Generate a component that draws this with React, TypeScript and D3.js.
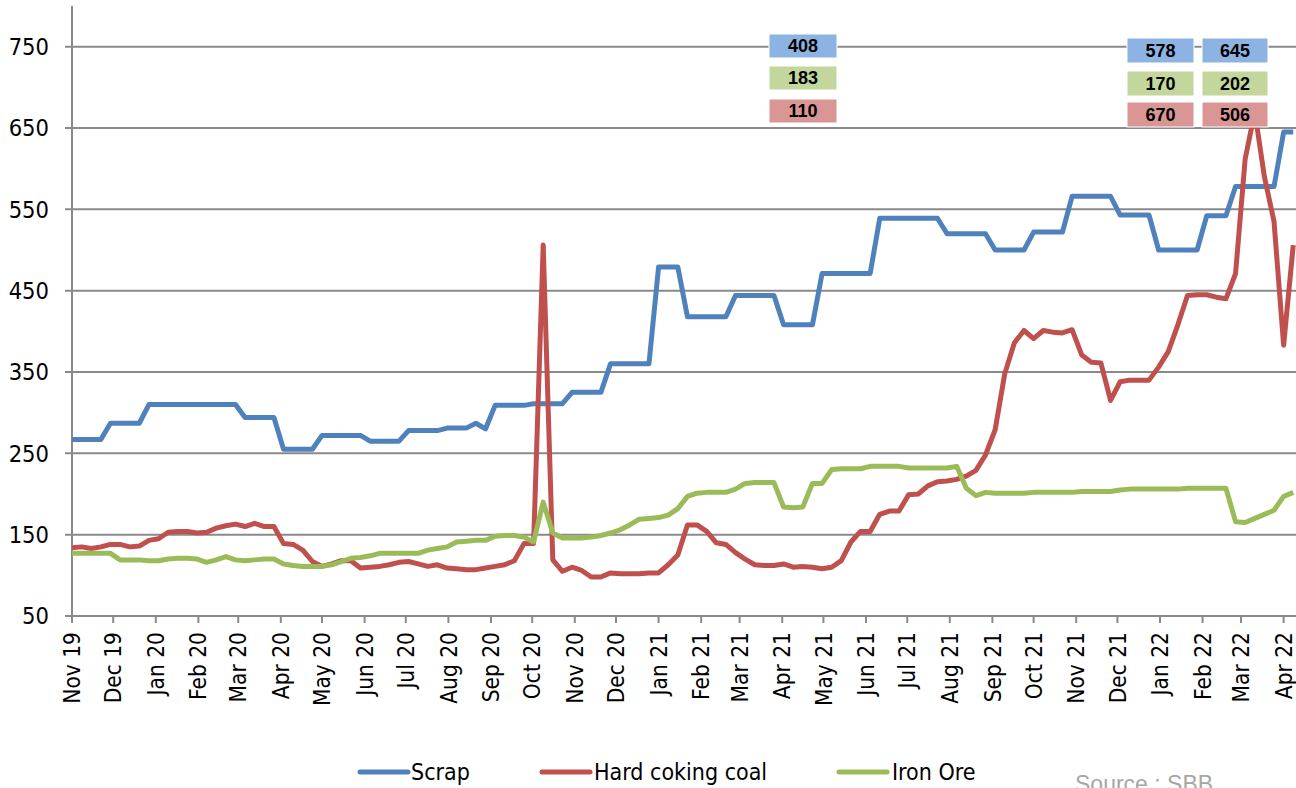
import React, { useEffect, useRef } from 'react';
import * as d3 from 'd3';

// month tick labels on the date axis
const MONTH_LABELS = [
    'Nov 19', 'Dec 19', 'Jan 20', 'Feb 20', 'Mar 20', 'Apr 20', 'May 20', 'Jun 20', 'Jul 20', 'Aug 20',
    'Sep 20', 'Oct 20', 'Nov 20', 'Dec 20', 'Jan 21', 'Feb 21', 'Mar 21', 'Apr 21', 'May 21', 'Jun 21',
    'Jul 21', 'Aug 21', 'Sep 21', 'Oct 21', 'Nov 21', 'Dec 21', 'Jan 22', 'Feb 22', 'Mar 22', 'Apr 22',
];
const Y_TICKS = [50, 150, 250, 350, 450, 550, 650, 750];
const FIRST_WEEK = '2019-11-01';
const AXIS_END = '2022-04-10';

// weekly prices, one value per week from FIRST_WEEK
const SCRAP = [
    267, 267, 267, 267, 287, 287, 287, 287, 310, 310,
    310, 310, 310, 310, 310, 310, 310, 310, 294, 294,
    294, 294, 255, 255, 255, 255, 272, 272, 272, 272,
    272, 265, 265, 265, 265, 278, 278, 278, 278, 281,
    281, 281, 287, 280, 309, 309, 309, 309, 311, 311,
    311, 311, 325, 325, 325, 325, 360, 360, 360, 360,
    360, 479, 479, 479, 418, 418, 418, 418, 418, 444,
    444, 444, 444, 444, 408, 408, 408, 408, 471, 471,
    471, 471, 471, 471, 539, 539, 539, 539, 539, 539,
    539, 520, 520, 520, 520, 520, 500, 500, 500, 500,
    522, 522, 522, 522, 566, 566, 566, 566, 566, 543,
    543, 543, 543, 500, 500, 500, 500, 500, 542, 542,
    542, 578, 578, 578, 578, 578, 645, 645,
];
const COKING_COAL = [
    134, 135, 133, 135, 138, 138, 135, 136, 143, 145,
    153, 154, 154, 152, 153, 158, 161, 163, 160, 164,
    160, 160, 139, 138, 131, 117, 111, 114, 118, 118,
    109, 110, 111, 113, 116, 117, 114, 111, 113, 109,
    108, 107, 107, 109, 111, 113, 118, 139, 139, 506,
    119, 105, 110, 106, 98, 98, 103, 102, 102, 102,
    103, 103, 113, 125, 162, 162, 154, 140, 138, 128,
    120, 113, 112, 112, 114, 110, 111, 110, 108, 110,
    118, 141, 154, 154, 175, 179, 179, 199, 200, 210,
    215, 216, 218, 222, 229, 248, 279, 348, 386, 401,
    391, 401, 399, 398, 402, 371, 362, 361, 315, 338,
    340, 340, 340, 356, 375, 408, 444, 445, 445, 442,
    440, 471, 612, 670, 590, 535, 383, 506,
];
const IRON_ORE = [
    127, 127, 127, 127, 127, 119, 119, 119, 118, 118,
    120, 121, 121, 120, 116, 119, 123, 119, 118, 119,
    120, 120, 114, 112, 111, 111, 111, 113, 117, 121,
    122, 124, 127, 127, 127, 127, 127, 131, 133, 135,
    141, 142, 143, 143, 148, 149, 149, 147, 141, 190,
    152, 146, 146, 146, 147, 149, 152, 156, 162, 169,
    170, 171, 174, 182, 197, 201, 202, 202, 202, 206,
    213, 214, 214, 214, 184, 183, 184, 213, 213, 230,
    231, 231, 231, 234, 234, 234, 234, 232, 232, 232,
    232, 232, 234, 207, 198, 202, 201, 201, 201, 201,
    202, 202, 202, 202, 202, 203, 203, 203, 203, 205,
    206, 206, 206, 206, 206, 206, 207, 207, 207, 207,
    207, 166, 165, 170, 175, 180, 197, 202,
];
const SERIES_NAMES = ['Scrap', 'Hard coking coal', 'Iron Ore'];
// callout columns: [scrap, iron ore, coking coal]
const CALLOUTS = [
    [408, 183, 110],
    [578, 170, 670],
    [645, 202, 506],
];
const SOURCE = 'Source : SBB';

const W = 1296;
const H = 788;
const GRID = '#8a8a8a';
const FONT = "'Liberation Sans Narrow', 'DejaVu Sans Condensed', sans-serif";
const LINE_COLORS = ['#4f81bd', '#c0504d', '#9bbb59'];
const BOX_COLORS = ['#8db3e2', '#c3d69b', '#d99694'];

const drawChart = (svgEl: SVGSVGElement) => {
    const svg = d3.select(svgEl);
    svg.selectAll('*').remove();

    const parseMonth = d3.utcParse('%b %y');
    const start = new Date(FIRST_WEEK + 'T00:00:00Z');
    const dates = SCRAP.map((_v, i) => d3.utcDay.offset(start, 7 * i));

    const x = d3.scaleUtc()
        .domain([start, new Date(AXIS_END + 'T00:00:00Z')])
        .range([72, 1296]);
    const y = d3.scaleLinear().domain([50, 800]).range([616, 6]);

    // --- grid + y labels ---
    const grid = svg.append('g');
    Y_TICKS.forEach(t => {
        grid.append('line')
            .attr('x1', 65).attr('x2', W)
            .attr('y1', y(t)).attr('y2', y(t))
            .attr('stroke', GRID).attr('stroke-width', 2);
        grid.append('text')
            .attr('x', 49).attr('y', y(t)).attr('dy', '0.36em')
            .attr('text-anchor', 'end')
            .style('font-family', FONT).style('font-size', '23.5px').style('fill', '#000')
            .text(t);
    });

    // y axis line
    svg.append('line')
        .attr('x1', 72).attr('x2', 72)
        .attr('y1', y(800)).attr('y2', y(50))
        .attr('stroke', GRID).attr('stroke-width', 2);

    // --- x ticks + rotated month labels ---
    const xAxis = svg.append('g');
    MONTH_LABELS.forEach(lbl => {
        const d = parseMonth(lbl) as Date;
        const tx = x(d);
        xAxis.append('line')
            .attr('x1', tx).attr('x2', tx)
            .attr('y1', 616).attr('y2', 623)
            .attr('stroke', GRID).attr('stroke-width', 2);
        xAxis.append('text')
            .attr('transform', `translate(${tx}, 632) rotate(-90)`)
            .attr('dy', '0.36em')
            .attr('text-anchor', 'end')
            .style('font-family', FONT).style('font-size', '22.5px').style('fill', '#000')
            .text(lbl);
    });

    // --- series ---
    const line = d3.line<number>()
        .x((_v, i) => x(dates[i]))
        .y(v => y(v));

    [SCRAP, COKING_COAL, IRON_ORE].forEach((vals, k) => {
        svg.append('path')
            .attr('d', line(vals) as string)
            .attr('fill', 'none')
            .attr('stroke', LINE_COLORS[k])
            .attr('stroke-width', 5)
            .attr('stroke-linejoin', 'round');
    });

    // --- callout boxes (drawn above the lines) ---
    const boxCols = [
        { x: 769, w: 68, rows: [34, 66, 99], h: 24 },
        { x: 1127, w: 67, rows: [38, 71, 102], h: 25 },
        { x: 1202, w: 66, rows: [38, 71, 102], h: 25 },
    ];
    CALLOUTS.forEach((vals, c) => {
        const col = boxCols[c];
        vals.forEach((v, r) => {
            svg.append('rect')
                .attr('x', col.x).attr('y', col.rows[r])
                .attr('width', col.w).attr('height', col.h)
                .attr('fill', BOX_COLORS[r])
                .attr('stroke', '#fff').attr('stroke-width', 1);
            svg.append('text')
                .attr('x', col.x + col.w / 2)
                .attr('y', col.rows[r] + col.h / 2)
                .attr('dy', '0.36em')
                .attr('text-anchor', 'middle')
                .style('font-family', "'Liberation Sans', Arial, sans-serif")
                .style('font-size', '18px').style('font-weight', 'bold').style('fill', '#000')
                .text(v);
        });
    });

    // --- legend ---
    const legendItems = [
        { x: 360, tx: 411 },
        { x: 542, tx: 594 },
        { x: 839, tx: 892 },
    ];
    const legend = svg.append('g');
    SERIES_NAMES.forEach((name, k) => {
        const item = legendItems[k];
        legend.append('line')
            .attr('x1', item.x).attr('x2', item.x + 48)
            .attr('y1', 772).attr('y2', 772)
            .attr('stroke', LINE_COLORS[k]).attr('stroke-width', 5)
            .attr('stroke-linecap', 'round');
        legend.append('text')
            .attr('x', item.tx).attr('y', 772).attr('dy', '0.36em')
            .style('font-family', FONT).style('font-size', '23px').style('fill', '#000')
            .text(name);
    });

    svg.append('text')
        .attr('x', 1075).attr('y', 792)
        .style('font-family', "'Liberation Sans', Arial, sans-serif")
        .style('font-size', '23px').style('fill', '#a6a6a6')
        .text(SOURCE);
};

const App: React.FC = () => {
    const svgRef = useRef<SVGSVGElement | null>(null);

    useEffect(() => {
        if (svgRef.current) drawChart(svgRef.current);
    }, []);

    return (
        <svg
            ref={svgRef}
            width={W}
            height={H}
            viewBox={`0 0 ${W} ${H}`}
            style={{ position: 'absolute', left: 0, top: 0, background: '#fff', display: 'block' }}
        />
    );
};

export default App;
